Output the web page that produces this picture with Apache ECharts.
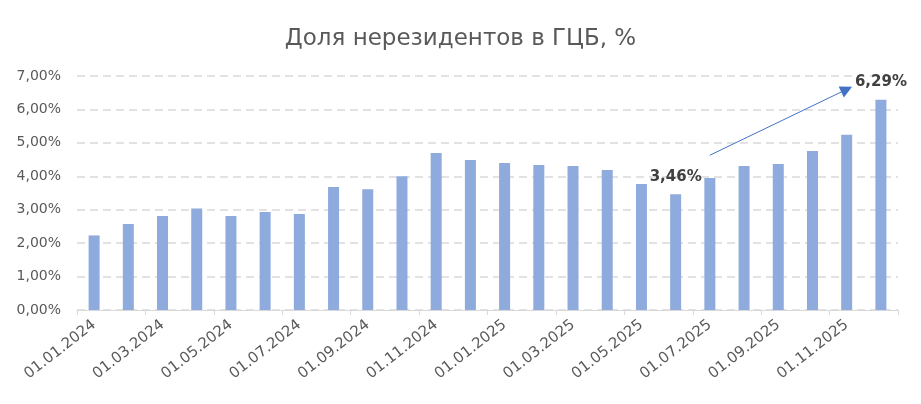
<!DOCTYPE html>
<html>
<head>
<meta charset="utf-8">
<script src="https://cdn.jsdelivr.net/npm/echarts@6/dist/echarts.min.js"></script>
<style>
html,body{margin:0;padding:0;background:#fff;}
#chart{width:921px;height:404px;}
</style>
</head>
<body>
<div id="chart"></div>
<script>
const titleText = 'Доля нерезидентов в ГЦБ, %';
const categories = [
  '01.01.2024','01.02.2024','01.03.2024','01.04.2024','01.05.2024','01.06.2024',
  '01.07.2024','01.08.2024','01.09.2024','01.10.2024','01.11.2024','01.12.2024',
  '01.01.2025','01.02.2025','01.03.2025','01.04.2025','01.05.2025','01.06.2025',
  '01.07.2025','01.08.2025','01.09.2025','01.10.2025','01.11.2025','01.12.2025'
];
const values = [
  2.23, 2.57, 2.81, 3.04, 2.81, 2.93, 2.87, 3.68, 3.61, 4.00, 4.70, 4.49,
  4.40, 4.34, 4.31, 4.19, 3.77, 3.46, 3.95, 4.31, 4.37, 4.76, 5.24, 6.29
];
const labelledIndices = [17, 23];
const arrowStart = [18, 4.63];
const arrowEnd = [22, 6.60];
const yTicks = [0, 1, 2, 3, 4, 5, 6, 7];

const fmt = v => Number(v).toFixed(2).replace('.', ',') + '%';
const font = '"DejaVu Sans", "Liberation Sans", sans-serif';

const chart = echarts.init(document.getElementById('chart'), null, {renderer: 'canvas'});
chart.setOption({
  animation: false,
  backgroundColor: '#ffffff',
  title: {
    text: titleText,
    left: 'center',
    top: 23,
    textStyle: {color: '#595959', fontSize: 23, fontWeight: 'normal', fontFamily: font}
  },
  grid: {left: 77, right: 23, top: 76, bottom: 94, containLabel: false},
  xAxis: {
    type: 'category',
    data: categories,
    boundaryGap: true,
    axisLine: {lineStyle: {color: '#D9D9D9', width: 1}},
    axisTick: {show: true, interval: 1, length: 5, lineStyle: {color: '#D9D9D9'}},
    axisLabel: {
      interval: 1, rotate: 38, color: '#595959', fontSize: 15, fontFamily: font, margin: 13
    },
    splitLine: {show: false}
  },
  yAxis: {
    type: 'value',
    min: yTicks[0],
    max: yTicks[yTicks.length - 1],
    interval: 1,
    axisLine: {show: false},
    axisTick: {show: false},
    axisLabel: {formatter: fmt, color: '#595959', fontSize: 14, fontFamily: font, margin: 16},
    splitLine: {lineStyle: {color: '#D9D9D9', width: 1.5, type: [8, 5]}}
  },
  series: [{
    type: 'bar',
    barWidth: 11,
    itemStyle: {color: '#8FAADC'},
    data: values.map((v, i) => labelledIndices.includes(i) ? {
      value: v,
      label: {
        show: true, position: 'top', distance: 10, formatter: p => fmt(p.value),
        color: '#404040', fontSize: 15, fontWeight: 'bold', fontFamily: font
      }
    } : v),
    markLine: {
      silent: true,
      symbol: ['none', 'triangle'],
      symbolSize: [12, 12],
      label: {show: false},
      lineStyle: {color: '#4472C4', width: 1, type: 'solid'},
      emphasis: {disabled: true},
      data: [[{coord: arrowStart}, {coord: arrowEnd}]]
    }
  }]
});
</script>
</body>
</html>
